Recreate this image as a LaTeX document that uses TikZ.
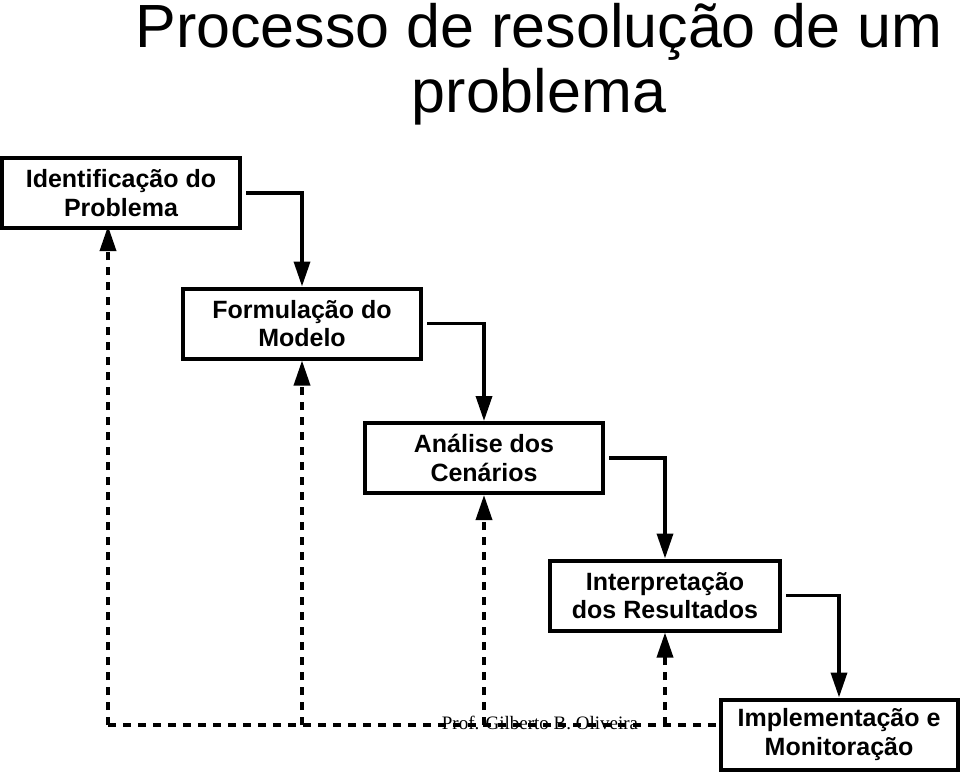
\documentclass[tikz,border=0pt]{standalone}
\usepackage{fontspec}
\setmainfont{Liberation Sans}
\newfontfamily\footfont{Liberation Serif}
\usetikzlibrary{arrows.meta}

\begin{document}
\begin{tikzpicture}[x=1pt,y=-1pt]

        \useasboundingbox (0,0) rectangle (960,773);

        \node (title) at (539,64) [align=center, inner sep=0pt, font=\fontsize{61}{65}\selectfont]
          {Processo de resolução de um\\problema};

        \begin{scope}[every node/.style={draw, line width=4pt, align=center,
            minimum height=70pt, inner sep=0pt,
            font=\bfseries\fontsize{25}{28.5}\selectfont}]
          \node (idp)  at (121,193)   [minimum width=238pt] {Identificação do\\Problema};
          \node (mod)  at (302,323.5) [minimum width=238pt] {Formulação do\\Modelo};
          \node (cen)  at (484,458)   [minimum width=238pt] {Análise dos\\Cenários};
          \node (res)  at (665,595.5) [minimum width=230pt] {Interpretação\\dos Resultados};
          \node (imp)  at (839,734.5) [minimum width=237pt] {Implementação e\\Monitoração};
        \end{scope}

        \coordinate (fb) at (108,725);

        \begin{scope}[line width=3.5pt, -{Triangle[width=16pt,length=25pt]}]
          \draw ([xshift=4pt]idp.east) -| (mod.north);
          \draw ([xshift=4pt]mod.east) -| (cen.north);
          \draw ([xshift=4pt]cen.east) -| (res.north);
          \draw ([xshift=4pt]res.east) -| (imp.north);
        \end{scope}

        \begin{scope}[line width=3.5pt, dash pattern=on 8pt off 7pt]
          \draw (fb) -- (fb -| imp.west);
          \draw[-{Triangle[width=16pt,length=25pt]}] (fb) -- ([yshift=4pt]idp.south -| fb);
          \draw[-{Triangle[width=16pt,length=25pt]}] (mod.south |- fb) -- (mod.south);
          \draw[-{Triangle[width=16pt,length=25pt]}] (cen.south |- fb) -- (cen.south);
          \draw[-{Triangle[width=16pt,length=25pt]}] (res.south |- fb) -- (res.south);
        \end{scope}

        \node (autor) at (540,723) [font=\footfont\fontsize{19}{21}\selectfont] {Prof. Gilberto B. Oliveira};

      \end{tikzpicture}
\end{document}
